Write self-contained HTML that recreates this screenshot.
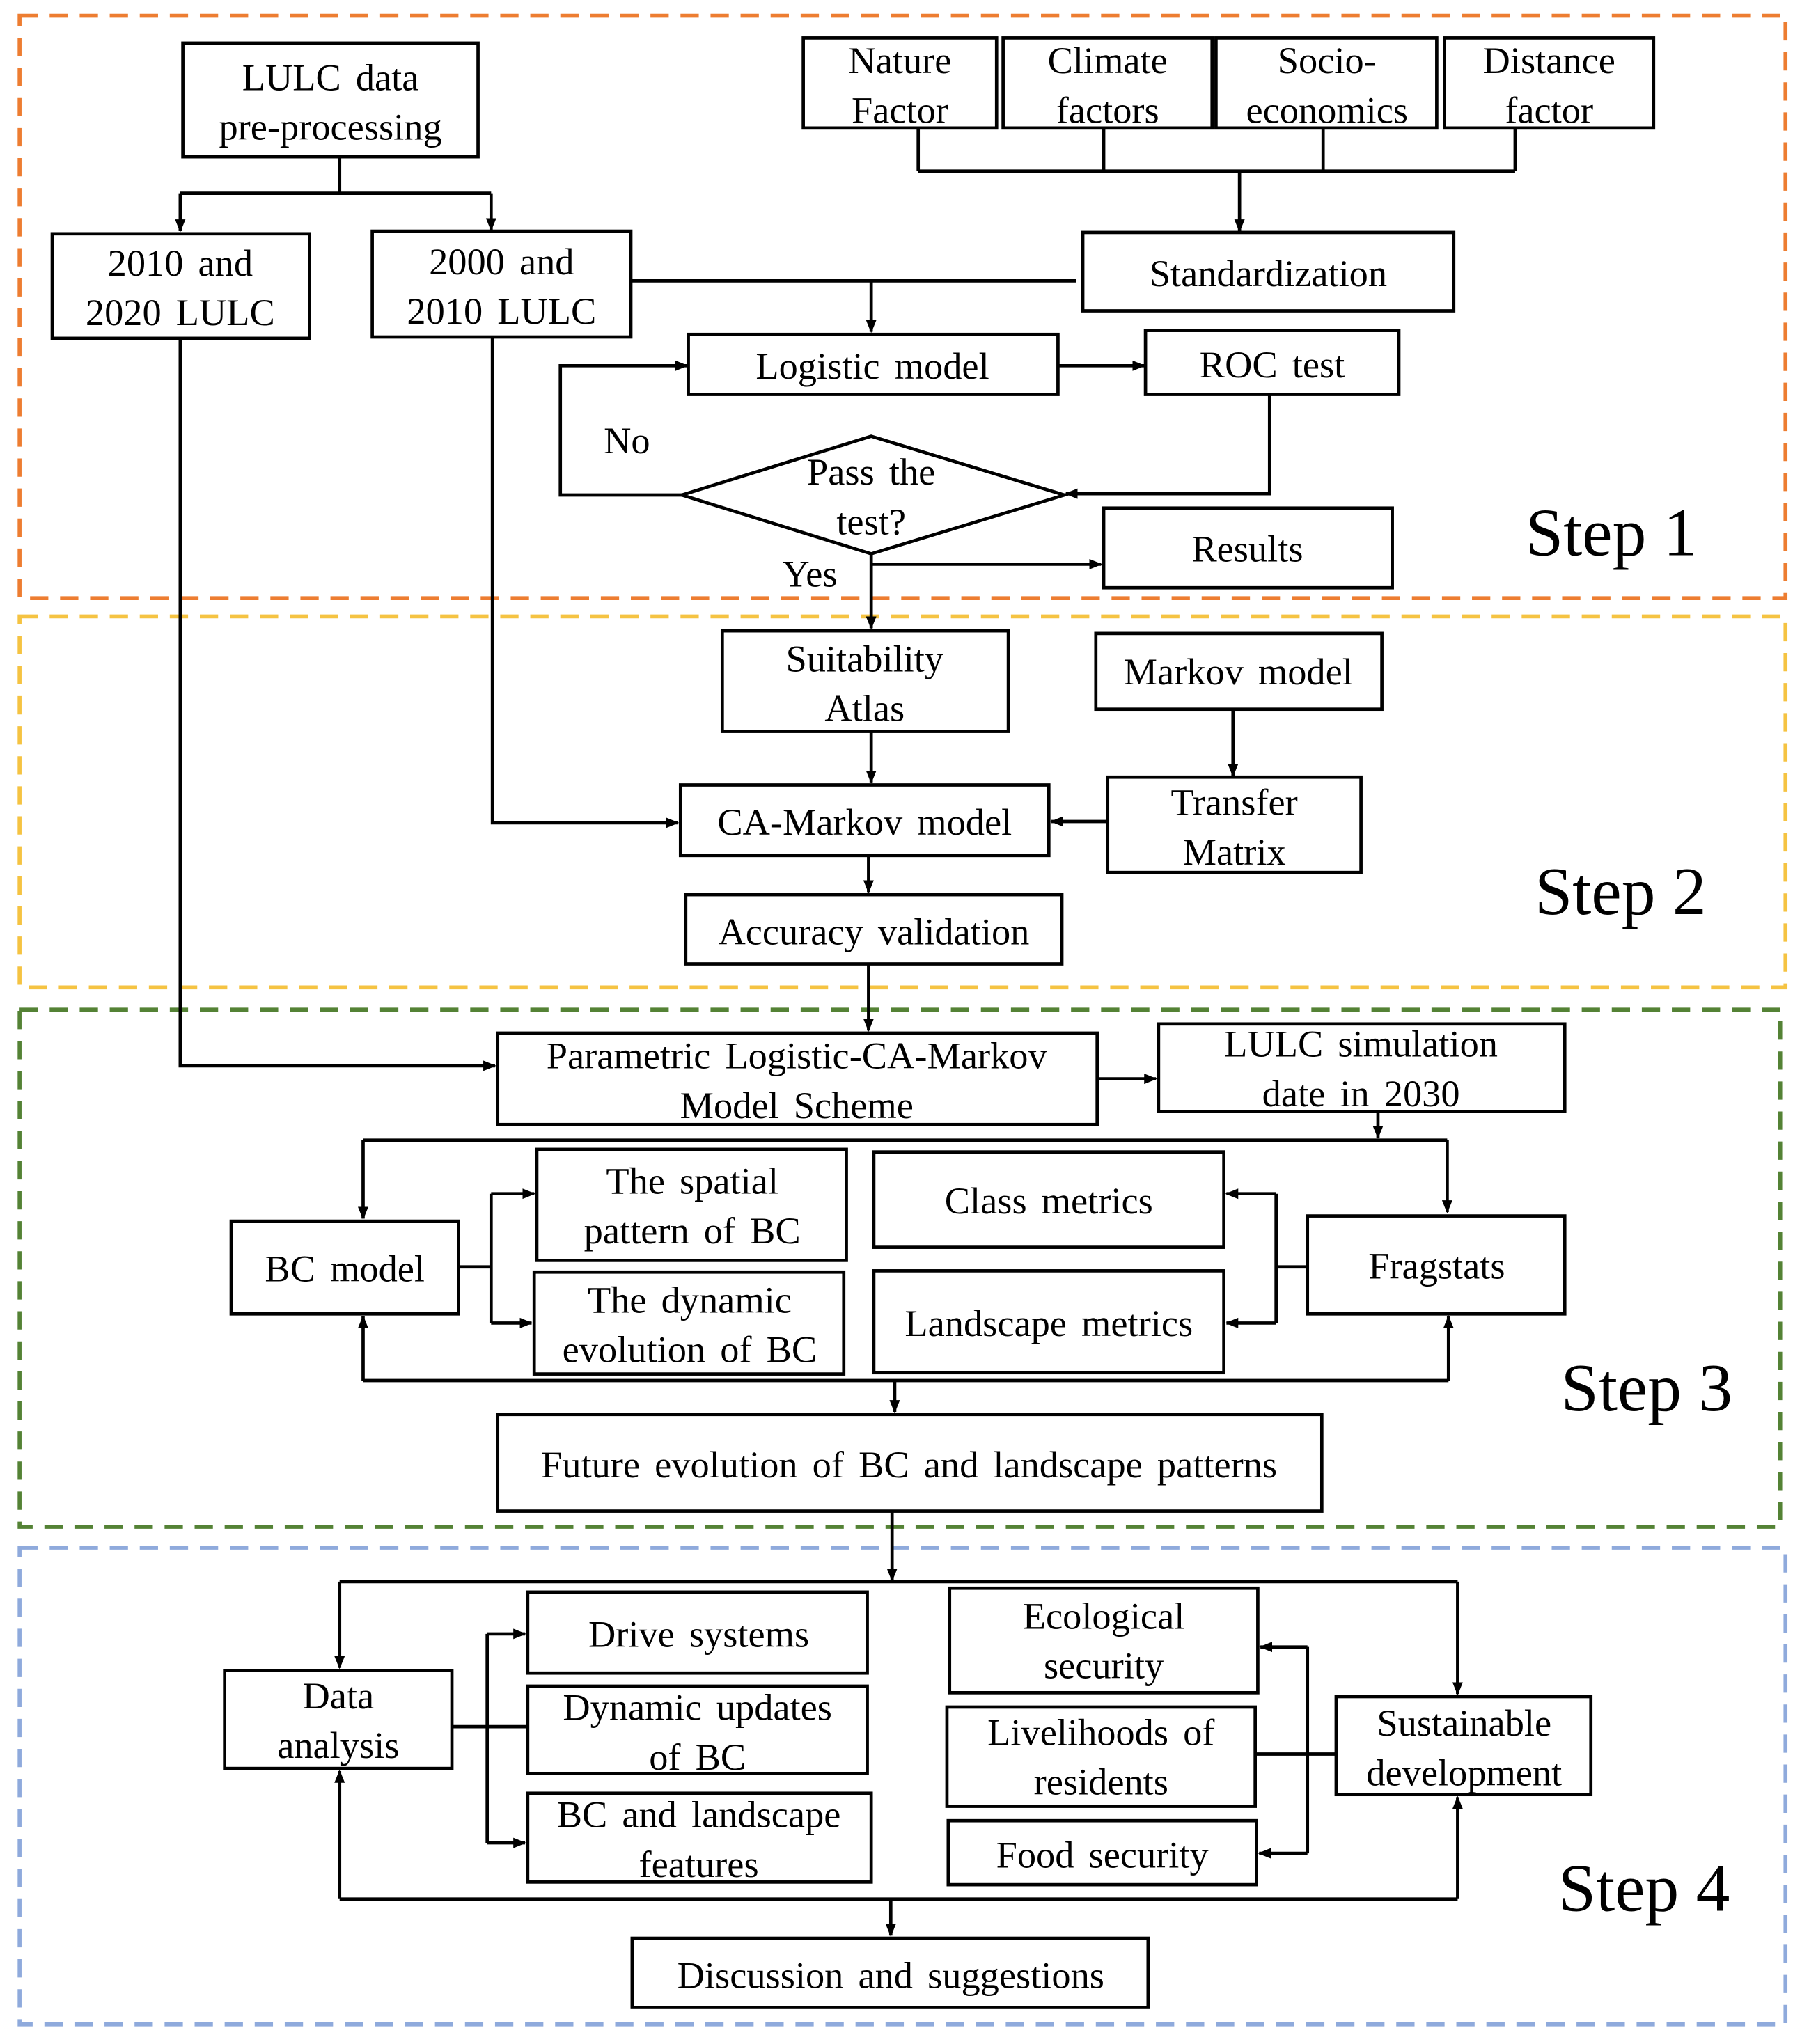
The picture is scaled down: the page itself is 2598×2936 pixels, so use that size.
<!DOCTYPE html>
<html><head><meta charset="utf-8"><style>
html,body{margin:0;padding:0;background:#fff;}
svg{display:block;}
text{font-family:"Liberation Serif",serif;font-size:29px;word-spacing:4px;fill:#000;text-anchor:middle;}
.s{font-size:52px;word-spacing:0;text-anchor:start;}
rect.b{fill:#fff;stroke:#000;stroke-width:2.5;}
.l{fill:none;stroke:#000;stroke-width:2.5;}
</style></head><body>
<svg width="2598" height="2936" viewBox="0 0 1385 1565" preserveAspectRatio="none" xmlns="http://www.w3.org/2000/svg">
<defs><marker id="a" markerWidth="10" markerHeight="10" refX="9" refY="5" orient="auto" markerUnits="userSpaceOnUse"><path d="M0,1 L10,5 L0,9 z" fill="#000"/></marker></defs>
<rect x="15" y="12" width="1352" height="446" fill="none" stroke="#ED7D31" stroke-width="3" stroke-dasharray="14,9"/>
<rect x="15" y="472" width="1352" height="284" fill="none" stroke="#F5C342" stroke-width="3" stroke-dasharray="14,9"/>
<rect x="15" y="773" width="1348" height="396" fill="none" stroke="#548235" stroke-width="3" stroke-dasharray="14,9"/>
<rect x="15" y="1185" width="1352" height="365" fill="none" stroke="#8FAADC" stroke-width="3" stroke-dasharray="14,9"/>

<path class="l" d="M260,120 V148 M138,148 H376"/>
<path class="l" d="M138,148 V177" marker-end="url(#a)"/>
<path class="l" d="M376,148 V176" marker-end="url(#a)"/>
<path class="l" d="M703,98 V131 M845,98 V131 M1013,98 V131 M1160,98 V131 M703,131 H1160"/>
<path class="l" d="M949,131 V177" marker-end="url(#a)"/>
<path class="l" d="M483,215 H824"/>
<path class="l" d="M667,215 V254" marker-end="url(#a)"/>
<path class="l" d="M810,280 H876" marker-end="url(#a)"/>
<path class="l" d="M972,302 V378 H816" marker-end="url(#a)"/>
<path class="l" d="M522,379 H429 V280 H526" marker-end="url(#a)"/>
<path class="l" d="M667,424 V481" marker-end="url(#a)"/>
<path class="l" d="M667,432 H843" marker-end="url(#a)"/>
<polygon points="667,334 815,379 667,424 522,379" fill="#fff" stroke="#000" stroke-width="2.5"/>

<path class="l" d="M667,560 V599" marker-end="url(#a)"/>
<path class="l" d="M944,543 V594" marker-end="url(#a)"/>
<path class="l" d="M848,629 H805" marker-end="url(#a)"/>
<path class="l" d="M377,258 V630 H519" marker-end="url(#a)"/>
<path class="l" d="M665,655 V683" marker-end="url(#a)"/>
<path class="l" d="M665,738 V789" marker-end="url(#a)"/>

<path class="l" d="M138,259 V816 H379" marker-end="url(#a)"/>
<path class="l" d="M840,826 H885" marker-end="url(#a)"/>
<path class="l" d="M1055,851 V871" marker-end="url(#a)"/>
<path class="l" d="M278,873 H1108"/>
<path class="l" d="M278,873 V933" marker-end="url(#a)"/>
<path class="l" d="M1108,873 V928" marker-end="url(#a)"/>
<path class="l" d="M351,970 H376 M376,914 V1013"/>
<path class="l" d="M376,914 H409" marker-end="url(#a)"/>
<path class="l" d="M376,1013 H407" marker-end="url(#a)"/>
<path class="l" d="M1001,970 H977 M977,914 V1013"/>
<path class="l" d="M977,914 H939" marker-end="url(#a)"/>
<path class="l" d="M977,1013 H939" marker-end="url(#a)"/>
<path class="l" d="M278,1057 H1109"/>
<path class="l" d="M278,1057 V1008" marker-end="url(#a)"/>
<path class="l" d="M1109,1057 V1008" marker-end="url(#a)"/>
<path class="l" d="M685,1057 V1081" marker-end="url(#a)"/>

<path class="l" d="M683,1157 V1210" marker-end="url(#a)"/>
<path class="l" d="M260,1211 H1116"/>
<path class="l" d="M260,1211 V1277" marker-end="url(#a)"/>
<path class="l" d="M1116,1211 V1297" marker-end="url(#a)"/>
<path class="l" d="M346,1322 H404 M373,1251 V1411"/>
<path class="l" d="M373,1251 H402" marker-end="url(#a)"/>
<path class="l" d="M373,1411 H402" marker-end="url(#a)"/>
<path class="l" d="M1023,1343 H961 M1001,1261 V1419"/>
<path class="l" d="M1001,1261 H965" marker-end="url(#a)"/>
<path class="l" d="M1001,1419 H964" marker-end="url(#a)"/>
<path class="l" d="M260,1454 H1116"/>
<path class="l" d="M260,1454 V1356" marker-end="url(#a)"/>
<path class="l" d="M1116,1454 V1376" marker-end="url(#a)"/>
<path class="l" d="M682,1454 V1482" marker-end="url(#a)"/>

<rect class="b" x="140" y="33" width="226" height="87"/><text x="253" y="69">LULC data</text><text x="253" y="107">pre-processing</text>
<rect class="b" x="40" y="179" width="197" height="80"/><text x="138" y="211">2010 and</text><text x="138" y="249">2020 LULC</text>
<rect class="b" x="285" y="177" width="198" height="81"/><text x="384" y="210">2000 and</text><text x="384" y="248">2010 LULC</text>
<rect class="b" x="615" y="29" width="148" height="69"/><text x="689" y="56">Nature</text><text x="689" y="94">Factor</text>
<rect class="b" x="768" y="29" width="160" height="69"/><text x="848" y="56">Climate</text><text x="848" y="94">factors</text>
<rect class="b" x="931" y="29" width="169" height="69"/><text x="1016" y="56">Socio-</text><text x="1016" y="94">economics</text>
<rect class="b" x="1106" y="29" width="160" height="69"/><text x="1186" y="56">Distance</text><text x="1186" y="94">factor</text>
<rect class="b" x="829" y="178" width="284" height="60"/><text x="971" y="219">Standardization</text>
<rect class="b" x="527" y="256" width="283" height="46"/><text x="668" y="290">Logistic model</text>
<rect class="b" x="877" y="253" width="194" height="49"/><text x="974" y="289">ROC test</text>
<text x="667" y="371">Pass the</text><text x="667" y="409">test?</text>
<text x="480" y="347">No</text><text x="620" y="449">Yes</text>
<rect class="b" x="845" y="389" width="221" height="61"/><text x="955" y="430">Results</text>
<text class="s" x="1168" y="425">Step 1</text>

<rect class="b" x="553" y="483" width="219" height="77"/><text x="662" y="514">Suitability</text><text x="662" y="552">Atlas</text>
<rect class="b" x="839" y="485" width="219" height="58"/><text x="948" y="524">Markov model</text>
<rect class="b" x="848" y="595" width="194" height="73"/><text x="945" y="624">Transfer</text><text x="945" y="662">Matrix</text>
<rect class="b" x="521" y="601" width="282" height="54"/><text x="662" y="639">CA-Markov model</text>
<rect class="b" x="525" y="685" width="288" height="53"/><text x="669" y="723">Accuracy validation</text>
<text class="s" x="1175" y="700">Step 2</text>

<rect class="b" x="381" y="791" width="459" height="70"/><text x="610" y="818">Parametric Logistic-CA-Markov</text><text x="610" y="856">Model Scheme</text>
<rect class="b" x="887" y="784" width="311" height="67"/><text x="1042" y="809">LULC simulation</text><text x="1042" y="847">date in 2030</text>
<rect class="b" x="177" y="935" width="174" height="71"/><text x="264" y="981">BC model</text>
<rect class="b" x="411" y="880" width="237" height="85"/><text x="530" y="914">The spatial</text><text x="530" y="952">pattern of BC</text>
<rect class="b" x="409" y="974" width="237" height="78"/><text x="528" y="1005">The dynamic</text><text x="528" y="1043">evolution of BC</text>
<rect class="b" x="669" y="882" width="268" height="73"/><text x="803" y="929">Class metrics</text>
<rect class="b" x="669" y="973" width="268" height="78"/><text x="803" y="1023">Landscape metrics</text>
<rect class="b" x="1001" y="931" width="197" height="75"/><text x="1100" y="979">Fragstats</text>
<rect class="b" x="381" y="1083" width="631" height="74"/><text x="696" y="1131">Future evolution of BC and landscape patterns</text>
<text class="s" x="1195" y="1080">Step 3</text>

<rect class="b" x="172" y="1279" width="174" height="75"/><text x="259" y="1308">Data</text><text x="259" y="1346">analysis</text>
<rect class="b" x="404" y="1219" width="260" height="62"/><text x="535" y="1261">Drive systems</text>
<rect class="b" x="404" y="1291" width="260" height="67"/><text x="534" y="1317">Dynamic updates</text><text x="534" y="1355">of BC</text>
<rect class="b" x="404" y="1373" width="263" height="68"/><text x="535" y="1399">BC and landscape</text><text x="535" y="1437">features</text>
<rect class="b" x="727" y="1216" width="236" height="80"/><text x="845" y="1247">Ecological</text><text x="845" y="1285">security</text>
<rect class="b" x="725" y="1307" width="236" height="76"/><text x="843" y="1336">Livelihoods of</text><text x="843" y="1374">residents</text>
<rect class="b" x="726" y="1394" width="236" height="49"/><text x="844" y="1430">Food security</text>
<rect class="b" x="1023" y="1299" width="195" height="75"/><text x="1121" y="1329">Sustainable</text><text x="1121" y="1367">development</text>
<rect class="b" x="484" y="1484" width="395" height="53"/><text x="682" y="1522">Discussion and suggestions</text>
<text class="s" x="1193" y="1463">Step 4</text>
</svg>
</body></html>
